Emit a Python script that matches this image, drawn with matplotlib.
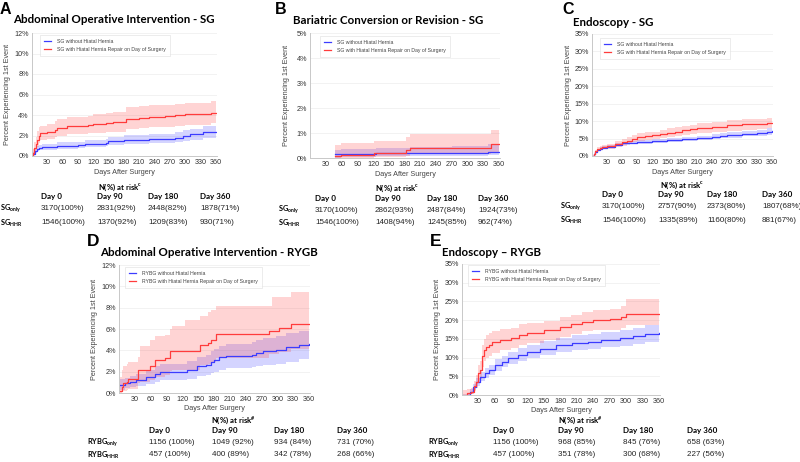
import matplotlib
matplotlib.use("Agg")
import matplotlib.pyplot as plt
from matplotlib.ticker import FuncFormatter

plt.rcParams['font.family'] = ['Liberation Sans', 'DejaVu Sans']
plt.rcParams['mathtext.fontset'] = 'custom'
plt.rcParams['mathtext.rm'] = 'Lato'
plt.rcParams['mathtext.bf'] = 'Lato:bold'

# ---- A: Abdominal operative intervention - SG (percent) ----
a_sg_days = [0, 3, 6, 10, 15, 20, 50, 90, 105, 145, 150, 180, 230, 280, 295, 310, 335, 360]
a_sg_pct = [0, 0.2, 0.5, 0.7, 0.8, 0.9, 1.0, 1.05, 1.2, 1.3, 1.5, 1.6, 1.7, 1.8, 2.0, 2.1, 2.3, 2.3]
a_sg_lo = [0, 0.05, 0.3, 0.45, 0.55, 0.6, 0.7, 0.75, 0.85, 0.95, 1.1, 1.2, 1.3, 1.35, 1.5, 1.6, 1.8, 1.8]
a_sg_hi = [0, 0.4, 0.75, 0.95, 1.1, 1.2, 1.35, 1.4, 1.6, 1.7, 1.9, 2.05, 2.15, 2.3, 2.5, 2.6, 2.9, 2.9]
a_hhr_days = [0, 3, 5, 8, 11, 14, 17, 30, 45, 50, 70, 110, 120, 145, 160, 185, 210, 230, 260, 280, 300, 350, 360]
a_hhr_pct = [0, 0.3, 0.8, 1.2, 1.6, 2.0, 2.2, 2.3, 2.5, 2.7, 2.9, 3.0, 3.1, 3.2, 3.3, 3.6, 3.7, 3.8, 3.9, 4.0, 4.1, 4.2, 4.2]
a_hhr_lo = [0, 0, 0.3, 0.6, 0.9, 1.3, 1.6, 1.7, 1.85, 2.0, 2.1, 2.2, 2.25, 2.3, 2.35, 2.6, 2.7, 2.8, 2.85, 2.95, 3.05, 3.2, 3.2]
a_hhr_hi = [0, 0.7, 1.4, 1.9, 2.4, 2.8, 2.95, 3.1, 3.4, 3.6, 3.8, 3.95, 4.05, 4.2, 4.3, 4.75, 4.85, 4.95, 5.0, 5.1, 5.2, 5.4, 5.4]

# ---- B: Bariatric conversion or revision - SG ----
b_sg_days = [47, 60, 90, 125, 190, 270, 340, 360]
b_sg_pct = [0.15, 0.16, 0.17, 0.19, 0.2, 0.22, 0.26, 0.26]
b_sg_lo = [0.02, 0.04, 0.05, 0.07, 0.08, 0.1, 0.13, 0.13]
b_sg_hi = [0.32, 0.35, 0.38, 0.4, 0.45, 0.5, 0.55, 0.55]
b_hhr_days = [47, 60, 122, 183, 190, 345, 360]
b_hhr_pct = [0.1, 0.12, 0.2, 0.32, 0.42, 0.55, 0.55]
b_hhr_lo = [0.01, 0.02, 0.05, 0.1, 0.18, 0.25, 0.25]
b_hhr_hi = [0.52, 0.6, 0.7, 0.85, 0.97, 1.13, 1.13]

# ---- C: Endoscopy - SG ----
c_sg_days = [0, 3, 6, 10, 15, 20, 30, 45, 60, 75, 90, 120, 150, 180, 210, 240, 255, 270, 300, 330, 350, 360]
c_sg_pct = [0, 0.5, 1.2, 1.7, 2.1, 2.4, 2.7, 3.2, 3.6, 3.8, 3.9, 4.2, 4.5, 4.8, 5.2, 5.5, 5.8, 6.0, 6.4, 6.6, 7.0, 7.1]
c_sg_lo = [0, 0.3, 0.9, 1.4, 1.75, 2.0, 2.3, 2.75, 3.1, 3.3, 3.4, 3.65, 3.95, 4.2, 4.55, 4.8, 5.1, 5.25, 5.6, 5.8, 6.15, 6.2]
c_sg_hi = [0, 0.7, 1.5, 2.0, 2.45, 2.8, 3.1, 3.65, 4.1, 4.3, 4.45, 4.75, 5.1, 5.4, 5.85, 6.2, 6.5, 6.75, 7.2, 7.45, 7.9, 8.0]
c_hhr_days = [0, 3, 6, 10, 15, 20, 30, 45, 60, 70, 80, 90, 105, 120, 135, 150, 165, 180, 195, 210, 240, 270, 300, 330, 350, 360]
c_hhr_pct = [0, 0.6, 1.3, 2.0, 2.3, 2.5, 2.8, 3.4, 3.9, 4.4, 5.0, 5.5, 5.7, 5.9, 6.3, 6.7, 7.0, 7.4, 7.7, 8.0, 8.3, 8.8, 9.1, 9.2, 9.5, 9.5]
c_hhr_lo = [0, 0.2, 0.8, 1.4, 1.7, 1.9, 2.1, 2.6, 3.0, 3.4, 3.9, 4.4, 4.6, 4.8, 5.1, 5.5, 5.8, 6.1, 6.4, 6.7, 6.9, 7.3, 7.6, 7.7, 8.0, 8.0]
c_hhr_hi = [0, 1.0, 1.8, 2.6, 3.0, 3.2, 3.5, 4.2, 4.8, 5.4, 6.0, 6.6, 6.8, 7.0, 7.5, 7.9, 8.3, 8.7, 9.0, 9.4, 9.7, 10.3, 10.6, 10.7, 11.0, 11.0]

# ---- D: Abdominal operative intervention - RYGB ----
d_rygb_days = [2, 11, 21, 33, 52, 68, 77, 128, 147, 165, 175, 181, 190, 203, 253, 260, 272, 297, 316, 341, 360]
d_rygb_pct = [0.73, 0.9, 1.05, 1.2, 1.5, 1.8, 2.0, 2.15, 2.5, 2.6, 2.95, 3.1, 3.35, 3.5, 3.6, 3.75, 3.97, 4.06, 4.3, 4.5, 4.6]
d_rygb_lo = [0.3, 0.45, 0.55, 0.65, 0.85, 1.05, 1.2, 1.3, 1.55, 1.65, 1.9, 2.0, 2.2, 2.3, 2.4, 2.5, 2.65, 2.75, 2.95, 3.15, 3.4]
d_rygb_hi = [1.3, 1.45, 1.6, 1.8, 2.2, 2.5, 2.75, 3.0, 3.4, 3.55, 3.95, 4.15, 4.45, 4.6, 4.75, 4.95, 5.2, 5.3, 5.6, 5.85, 6.05]
d_hhr_days = [2, 5, 8, 15, 18, 36, 40, 58, 68, 87, 96, 100, 125, 153, 169, 175, 184, 285, 290, 304, 326, 360]
d_hhr_pct = [0.15, 0.57, 0.9, 1.05, 1.3, 2.15, 2.15, 2.5, 3.1, 3.3, 3.9, 3.9, 3.9, 4.5, 4.7, 5.0, 5.5, 5.8, 5.8, 6.1, 6.45, 6.45]
d_hhr_lo = [0, 0.1, 0.2, 0.25, 0.35, 0.9, 1.0, 1.25, 1.5, 1.7, 2.1, 2.15, 2.2, 2.6, 2.75, 2.95, 3.3, 3.7, 3.7, 3.85, 4.1, 4.1]
d_hhr_hi = [1.5, 2.2, 2.5, 2.7, 2.9, 3.4, 4.4, 5.0, 5.3, 5.4, 6.0, 6.3, 6.8, 7.2, 7.6, 7.8, 8.2, 8.2, 9.0, 9.0, 9.45, 9.45]

# ---- E: Endoscopy - RYGB ----
e_rygb_days = [0, 10, 16, 21, 27, 33, 42, 50, 62, 74, 85, 103, 120, 144, 173, 202, 230, 254, 289, 312, 335, 360]
e_rygb_pct = [0, 0, 0.9, 2.2, 3.5, 4.9, 5.8, 6.7, 8.0, 8.9, 9.8, 10.7, 11.6, 12.4, 13.3, 14.0, 14.2, 14.7, 15.2, 15.8, 16.3, 16.6]
e_rygb_lo = [0, 0, 0.4, 1.4, 2.5, 3.7, 4.5, 5.3, 6.5, 7.4, 8.2, 9.0, 9.9, 10.6, 11.4, 12.0, 12.2, 12.7, 13.1, 13.6, 14.1, 14.6]
e_rygb_hi = [0, 0.5, 1.5, 3.0, 4.5, 6.1, 7.1, 8.1, 9.6, 10.5, 11.4, 12.5, 13.4, 14.4, 15.3, 16.0, 16.3, 16.8, 17.4, 18.0, 18.6, 18.9]
e_hhr_days = [0, 5, 10, 17, 22, 27, 30, 34, 38, 41, 45, 50, 55, 70, 90, 105, 120, 150, 180, 200, 220, 240, 270, 290, 300, 360]
e_hhr_pct = [0, 0, 0.5, 0.9, 2.3, 3.5, 5.8, 6.7, 10.3, 12.0, 12.9, 13.3, 14.2, 14.7, 15.2, 16.1, 16.6, 17.3, 18.2, 18.9, 19.6, 20.0, 20.2, 20.8, 21.6, 21.6]
e_hhr_lo = [0, 0, 0, 0.2, 1.0, 1.8, 3.6, 4.4, 7.5, 9.0, 9.9, 10.3, 11.2, 12.0, 12.6, 13.4, 14.0, 14.8, 15.6, 16.3, 17.0, 17.3, 17.5, 18.0, 18.7, 18.7]
e_hhr_hi = [1.3, 1.3, 1.5, 2.0, 3.8, 5.4, 8.1, 9.2, 13.3, 15.0, 16.0, 16.5, 17.2, 17.6, 18.0, 18.9, 19.3, 19.8, 20.8, 21.5, 22.3, 22.8, 23.0, 23.8, 25.7, 25.7]

# ---- numbers at risk ----
day_headers = ["Day 0", "Day 90", "Day 180", "Day 360"]
a_only_risk = ["3170(100%)", "2831(92%)", "2448(82%)", "1878(71%)"]
a_hhr_risk = ["1546(100%)", "1370(92%)", "1209(83%)", "930(71%)"]
b_only_risk = ["3170(100%)", "2862(93%)", "2487(84%)", "1924(73%)"]
b_hhr_risk = ["1546(100%)", "1408(94%)", "1245(85%)", "962(74%)"]
c_only_risk = ["3170(100%)", "2757(90%)", "2373(80%)", "1807(68%)"]
c_hhr_risk = ["1546(100%)", "1335(89%)", "1160(80%)", "881(67%)"]
d_only_risk = ["1156 (100%)", "1049 (92%)", "934 (84%)", "731 (70%)"]
d_hhr_risk = ["457 (100%)", "400 (89%)", "342 (78%)", "268 (66%)"]
e_only_risk = ["1156 (100%)", "968 (85%)", "845 (76%)", "658 (63%)"]
e_hhr_risk = ["457 (100%)", "351 (78%)", "300 (68%)", "227 (56%)"]

W, H = 800, 462
fig = plt.figure(figsize=(W / 100, H / 100), dpi=100)
fig.patch.set_facecolor('white')

BLUE = '#3c3cff'
RED = '#ff3c3c'
TITLE_FONT = ['Lato', 'DejaVu Sans']


def fx(x):
    return x / W


def fy(y):
    return 1 - y / H


def panel(box, ymax, ystep, sg, hhr, labels, legend_box):
    x0, y0, x1, y1 = box
    ax = fig.add_axes([fx(x0), fy(y1), (x1 - x0) / W, (y1 - y0) / H])
    for (days, pct, lo, hi), col, lab in zip([sg, hhr], [BLUE, RED], labels):
        ax.fill_between(days, lo, hi, step='post', color=col, alpha=0.22, lw=0)
        ax.step(days, pct, where='post', color=col, lw=0.9, label=lab)
    ax.set_xlim(0, 362)
    ax.set_ylim(0, ymax)
    ax.set_xticks(range(30, 361, 30))
    yt = [i * ystep for i in range(int(round(ymax / ystep)) + 1)]
    ax.set_yticks(yt)
    ax.yaxis.set_major_formatter(FuncFormatter(lambda v, p: '%d%%' % round(v)))
    ax.grid(axis='y', color='#f0f0f0', lw=0.6)
    ax.set_axisbelow(True)
    for s in ['top', 'right']:
        ax.spines[s].set_visible(False)
    for s in ['left', 'bottom']:
        ax.spines[s].set_color('#c8c8c8')
        ax.spines[s].set_linewidth(0.7)
    ax.tick_params(length=0, labelsize=5.2, colors='#333333', pad=2)
    lx, ly = legend_box
    ax.legend(loc='upper left', bbox_to_anchor=(fx(lx), fy(ly)), bbox_transform=fig.transFigure,
              borderaxespad=0, fontsize=3.7, frameon=True, fancybox=False, edgecolor='#dddddd',
              handlelength=1.4, handletextpad=1.2, borderpad=0.8, labelspacing=0.5,
              labelcolor='#444444').get_frame().set_linewidth(0.5)
    # axis labels
    fig.text(fx(x0 - 24), fy((y0 + y1) / 2), 'Percent Experiencing 1st Event', rotation=90,
             ha='center', va='center', fontsize=5.2, color='#444444')
    return ax


def risk_table(top_y, title_x, cols_x, label_x, rows, names, row_dy, supers):
    fig.text(fx(title_x), fy(top_y), 'N(%) at risk$^{\\mathbf{' + supers + '}}$',
             family=TITLE_FONT, weight='bold', fontsize=5.6, ha='center', va='center')
    for cx, h in zip(cols_x, day_headers):
        fig.text(fx(cx), fy(top_y + 10), h, family=TITLE_FONT, weight='bold', fontsize=5.8,
                 ha='left', va='center')
    for i, (row, nm) in enumerate(zip(rows, names)):
        yy = top_y + 22 + i * row_dy
        fig.text(fx(label_x), fy(yy), nm, fontsize=5.3, ha='left', va='center')
        for cx, v in zip(cols_x, row):
            fig.text(fx(cx), fy(yy), v, fontsize=5.8, ha='left', va='center', color='#222222')


sg_labels = ["SG without Hiatal Hernia", "SG with Hiatal Hernia Repair on Day of Surgery"]
rygb_labels = ["RYBG without Hiatal Hernia", "RYBG with Hiatal Hernia Repair on Day of Surgery"]
sg_names = [r'$\mathbf{SG}_{\mathbf{only}}$', r'$\mathbf{SG}_{\mathbf{HHR}}$']
rygb_names = [r'$\mathbf{RYBG}_{\mathbf{only}}$', r'$\mathbf{RYBG}_{\mathbf{HHR}}$']

# panel A
panel((31.5, 33, 217, 156), 12, 2,
      (a_sg_days, a_sg_pct, a_sg_lo, a_sg_hi), (a_hhr_days, a_hhr_pct, a_hhr_lo, a_hhr_hi),
      sg_labels, (40, 35))
fig.text(fx(0), fy(9), 'A', weight='bold', fontsize=11.5, ha='left', va='center')
fig.text(fx(13), fy(19.5), 'Abdominal Operative Intervention - SG', family=TITLE_FONT,
         weight='bold', fontsize=8.3, ha='left', va='center')
fig.text(fx(124), fy(172), 'Days After Surgery', fontsize=5.2, ha='center', va='center', color='#444444')
risk_table(187, 120, [41, 97, 148, 200], 0, [a_only_risk, a_hhr_risk], sg_names, 14, 'c')

# panel B
panel((310, 33, 500, 158), 5, 1,
      (b_sg_days, b_sg_pct, b_sg_lo, b_sg_hi), (b_hhr_days, b_hhr_pct, b_hhr_lo, b_hhr_hi),
      sg_labels, (320, 36))
fig.text(fx(275), fy(10), 'B', weight='bold', fontsize=11.5, ha='left', va='center')
fig.text(fx(293), fy(20), 'Bariatric Conversion or Revision - SG', family=TITLE_FONT,
         weight='bold', fontsize=8.3, ha='left', va='center')
fig.text(fx(405), fy(175), 'Days After Surgery', fontsize=5.2, ha='center', va='center', color='#444444')
risk_table(188, 397, [315, 375, 427, 478], 278, [b_only_risk, b_hhr_risk], sg_names, 13, 'c')

# panel C
panel((592, 34, 773, 156), 35, 5,
      (c_sg_days, c_sg_pct, c_sg_lo, c_sg_hi), (c_hhr_days, c_hhr_pct, c_hhr_lo, c_hhr_hi),
      sg_labels, (600, 38))
fig.text(fx(562), fy(10), 'C', weight='bold', fontsize=11.5, ha='left', va='center')
fig.text(fx(573), fy(22), 'Endoscopy - SG', family=TITLE_FONT,
         weight='bold', fontsize=8.3, ha='left', va='center')
fig.text(fx(682), fy(172), 'Days After Surgery', fontsize=5.2, ha='center', va='center', color='#444444')
risk_table(185, 682, [602, 658, 707, 762], 560, [c_only_risk, c_hhr_risk], sg_names, 13, 'c')

# panel D
panel((119, 265, 310, 393), 12, 2,
      (d_rygb_days, d_rygb_pct, d_rygb_lo, d_rygb_hi), (d_hhr_days, d_hhr_pct, d_hhr_lo, d_hhr_hi),
      rygb_labels, (125, 267))
fig.text(fx(87), fy(241), 'D', weight='bold', fontsize=12.5, ha='left', va='center')
fig.text(fx(100), fy(253), 'Abdominal Operative Intervention - RYGB', family=TITLE_FONT,
         weight='bold', fontsize=8.3, ha='left', va='center')
fig.text(fx(214), fy(408), 'Days After Surgery', fontsize=5.2, ha='center', va='center', color='#444444')
risk_table(421, 233, [149, 212, 274, 337], 87, [d_only_risk, d_hhr_risk], rygb_names, 12, '\\#')

# panel E
panel((461.5, 264, 660, 395), 35, 5,
      (e_rygb_days, e_rygb_pct, e_rygb_lo, e_rygb_hi), (e_hhr_days, e_hhr_pct, e_hhr_lo, e_hhr_hi),
      rygb_labels, (468, 265))
fig.text(fx(430), fy(241), 'E', weight='bold', fontsize=12.5, ha='left', va='center')
fig.text(fx(442), fy(252), 'Endoscopy \u2013 RYGB', family=TITLE_FONT,
         weight='bold', fontsize=8.3, ha='left', va='center')
fig.text(fx(561), fy(411), 'Days After Surgery', fontsize=5.2, ha='center', va='center', color='#444444')
risk_table(421, 580, [493, 558, 623, 687], 428, [e_only_risk, e_hhr_risk], rygb_names, 12, '\\#')

fig.savefig('out.png', dpi=100)
